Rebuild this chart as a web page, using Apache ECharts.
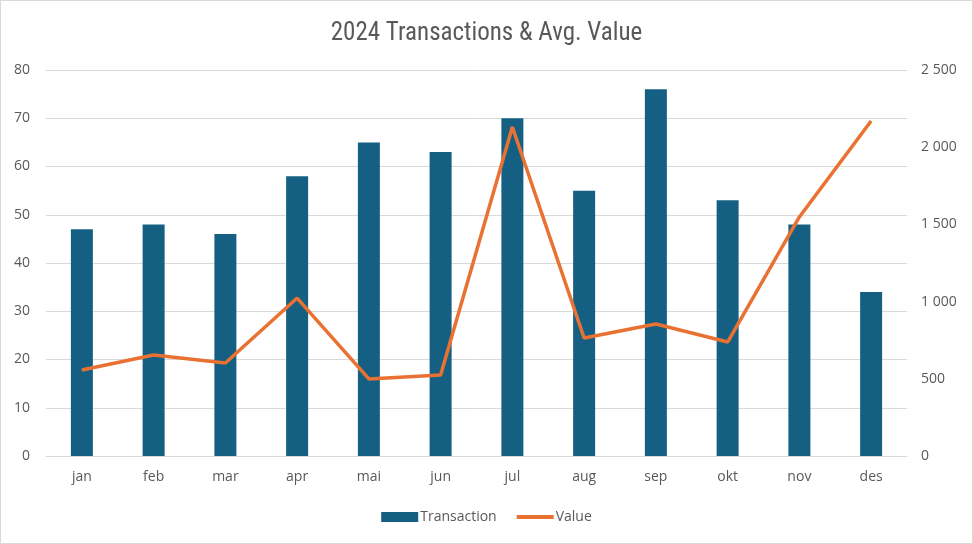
<!DOCTYPE html>
<html>
<head>
<meta charset="utf-8">
<script src="https://cdn.jsdelivr.net/npm/echarts@6/dist/echarts.min.js"></script>
<style>
html,body{margin:0;padding:0;background:#fff;}
#c{width:971px;height:542px;border:1px solid #d9d9d9;}
</style>
</head>
<body>
<div id="c"></div>
<script>
const categories = ['jan','feb','mar','apr','mai','jun','jul','aug','sep','okt','nov','des'];
const transactions = [47,48,46,58,65,63,70,55,76,53,48,34];
const values = [557,654,602,1023,499,525,2131,764,855,738,1548,2170];
const leftTicks = {min:0,max:80,interval:10};
const rightTicks = {min:0,max:2500,interval:500};

const chart = echarts.init(document.getElementById('c'));
const txt = '#595959';
const fmt = v => String(v).replace(/\B(?=(\d{3})+(?!\d))/g, ' ');
chart.setOption({
  animation:false,
  title:{text:'2024 Transactions & Avg. Value',left:'center',top:15,
    textStyle:{fontFamily:'Liberation Sans Narrow, Roboto Condensed, sans-serif',fontSize:25,fontWeight:'normal',color:txt}},
  legend:{bottom:14,left:'center',itemGap:18,itemWidth:37,itemHeight:10,
    textStyle:{fontFamily:'Open Sans, sans-serif',fontSize:14,color:txt,padding:[0,0,0,-3]},
    data:[{name:'Transaction',icon:'rect'},{name:'Value',itemStyle:{opacity:0},lineStyle:{width:4}}]},
  grid:{left:45,right:65,top:69,bottom:87},
  xAxis:{type:'category',data:categories,
    axisLine:{lineStyle:{color:'#d9d9d9'}},axisTick:{show:false},
    axisLabel:{color:txt,fontSize:14,fontFamily:'Open Sans, sans-serif',margin:14}},
  yAxis:[
    {type:'value',min:leftTicks.min,max:leftTicks.max,interval:leftTicks.interval,
     axisLine:{show:false},axisTick:{show:false},
     splitLine:{lineStyle:{color:'#d9d9d9',width:1}},
     axisLabel:{color:txt,fontSize:14,fontFamily:'Open Sans, sans-serif',margin:16}},
    {type:'value',min:rightTicks.min,max:rightTicks.max,interval:rightTicks.interval,
     axisLine:{show:false},axisTick:{show:false},splitLine:{show:false},
     axisLabel:{color:txt,fontSize:14,fontFamily:'Open Sans, sans-serif',margin:14,formatter:fmt}}
  ],
  series:[
    {name:'Transaction',type:'bar',data:transactions,barWidth:22,itemStyle:{color:'#156082'}},
    {name:'Value',type:'line',yAxisIndex:1,data:values,symbol:'none',
     lineStyle:{color:'#E97132',width:3.5},itemStyle:{color:'#E97132'}}
  ]
});
</script>
</body>
</html>
